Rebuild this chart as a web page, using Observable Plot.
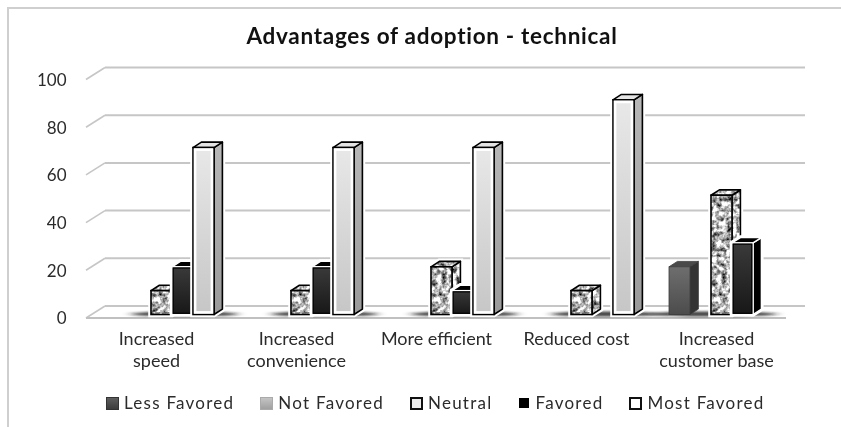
<!DOCTYPE html>
<html><head><meta charset="utf-8">
<script src="https://cdn.jsdelivr.net/npm/d3@7"></script>
<script src="https://cdn.jsdelivr.net/npm/@observablehq/plot@0.6"></script>
<style>
html,body{margin:0;padding:0;background:#fff;overflow:hidden}
#wrap{position:relative;width:841px;height:427px;overflow:hidden;font-family:Lato,sans-serif;filter:blur(.5px)}
#frame{position:absolute;left:7px;top:7px;right:-5px;bottom:-5px;border:2px solid #cfcfcf}
#title{height:55px;box-sizing:border-box;padding-top:23px;padding-left:23px;text-align:center;font-size:22.5px;font-weight:700;letter-spacing:.7px;line-height:26px;color:#111}
#legend{position:absolute;left:106px;top:392px;display:flex;gap:26px;font-size:17px;line-height:22px;color:#2b2b2b;letter-spacing:1.25px}
#legend .item{display:flex;align-items:center;gap:5px}
#legend .sw{display:inline-block;width:13px;height:13px;box-sizing:border-box}
svg{display:block}
</style></head><body>
<div id="wrap"><div id="frame"></div><div id="title">Advantages of adoption - technical</div><div id="chart"></div><div id="legend"></div></div>
<script>
const categories = ["Increased\nspeed","Increased\nconvenience","More efficient","Reduced cost","Increased\ncustomer base"];
const seriesNames = ["Less Favored","Not Favored","Neutral","Favored","Most Favored"];
const lessFavored = [0,0,0,0,20];
const notFavored  = [0,0,0,0,0];
const neutral     = [10,10,20,10,50];
const favored     = [20,20,10,0,30];
const mostFavored = [70,70,70,90,0];
const yTicks = [0,20,40,60,80,100];
const seriesValues = [lessFavored,notFavored,neutral,favored,mostFavored];

const table = categories.flatMap((category,c)=>seriesNames.map((series,s)=>({category,series,value:seriesValues[s][c]}))).filter(d=>d.value>0);

const looks = {
  "Less Favored":{front:"url(#gLess)",side:"#333",top:"#4a4a4a",stroke:"#3c3c3c",sw:.8},
  "Not Favored":{front:"url(#gNot)",side:"#888",top:"#bbb",stroke:"#999",sw:.8},
  "Neutral":{front:"url(#speck)",side:"url(#speck)",top:"url(#speck)",stroke:"#000",sw:1.6,halo:4},
  "Favored":{front:"url(#gFav)",side:"#000",top:"#000",stroke:"#fff",sw:1.4,inner:"#000",innerW:1.2,innerI:1.2,halo:3},
  "Most Favored":{front:"url(#gMost)",side:"url(#gSide)",top:"#e4e4e4",stroke:"#000",sw:1.6,inner:"#fff",innerW:2.6,innerI:2.1,halo:4}
};
const depthX = 8.4, depthY = 5.4, wallX = 19, wallY = 12;
const NS = "http://www.w3.org/2000/svg";
function el(name,attrs){const n=document.createElementNS(NS,name);for(const k in attrs)n.setAttribute(k,attrs[k]);return n;}

function bars3d(index,scales,values,dimensions,context,next){
  const g = next(index,scales,values,dimensions,context);
  const rects = [...g.querySelectorAll("rect")];
  if(!rects.length) return g;
  const host = rects[0].parentNode;
  const first = rects[0];
  const xs = rects.map(r=>+r.getAttribute("x"));
  const ws = rects.map(r=>+r.getAttribute("width"));
  const lo = d3.min(xs), hi = d3.max(xs.map((x,i)=>x+ws[i]));
  const base = d3.max(rects.map(r=>+r.getAttribute("y")+ +r.getAttribute("height")));
  host.insertBefore(el("ellipse",{cx:(lo+hi)/2+2,cy:base-.5,rx:(hi-lo)/2+22,ry:2.6,fill:"#1a1a1a","fill-opacity":.8,filter:"url(#soft)"}),first);
  rects.forEach((r,i)=>{
    const look = looks[table[index[i]].series];
    const x=+r.getAttribute("x"),y=+r.getAttribute("y"),w=+r.getAttribute("width"),h=+r.getAttribute("height");
    const pts = a=>a.map(p=>p.join(",")).join(" ");
    const side = pts([[x+w,y],[x+w+depthX,y-depthY],[x+w+depthX,y+h-depthY],[x+w,y+h]]);
    const top = pts([[x,y],[x+depthX,y-depthY],[x+w+depthX,y-depthY],[x+w,y]]);
    const outline = pts([[x,y],[x+depthX,y-depthY],[x+w+depthX,y-depthY],[x+w+depthX,y+h-depthY],[x+w,y+h],[x,y+h]]);
    if(look.halo) host.insertBefore(el("polygon",{points:outline,fill:"none",stroke:"#fff","stroke-width":look.halo+look.sw}),r);
    host.insertBefore(el("polygon",{points:side,fill:look.side,stroke:look.stroke,"stroke-width":look.sw,"stroke-linejoin":"round"}),r);
    host.insertBefore(el("polygon",{points:top,fill:look.top,stroke:look.stroke,"stroke-width":look.sw,"stroke-linejoin":"round"}),r);
    r.setAttribute("fill",look.front);
    r.setAttribute("stroke",look.stroke);
    r.setAttribute("stroke-width",look.sw);
    if(look.inner){
      const inset = el("rect",{x:x+look.innerI,y:y+look.innerI,width:w-2*look.innerI,height:h-2*look.innerI,fill:"none",stroke:look.inner,"stroke-width":look.innerW});
      r.after(inset);
    }
  });
  return g;
}
function diagonals(index,scales,values,dimensions,context,next){
  const g = next(index,scales,values,dimensions,context);
  g.querySelectorAll("line").forEach(l=>{
    l.setAttribute("x2",+l.getAttribute("x1")+wallX);
    l.setAttribute("y2",+l.getAttribute("y1")-wallY);
  });
  return g;
}

const chart = Plot.plot({
  width:841,height:330,marginLeft:84,marginRight:53,marginTop:24,marginBottom:67.5,
  style:{background:"transparent",fontFamily:'Lato,sans-serif',overflow:"visible"},
  fx:{domain:categories,padding:0,label:null},
  x:{domain:seriesNames,paddingInner:0,paddingOuter:.8,axis:null,label:null},
  y:{domain:[0,100],label:null},
  marks:[
    Plot.ruleY(yTicks,{dx:wallX,dy:-wallY,stroke:"#c6c6c6",strokeWidth:2}),
    Plot.ruleY(yTicks,{fx:()=>categories[0],stroke:"#c6c6c6",strokeWidth:1.6,render:diagonals}),
    Plot.ruleY([0],{stroke:"#c0c0c0",strokeWidth:2.2}),
    Plot.axisY({ticks:yTicks,tickSize:0,tickPadding:20,dy:1,fontSize:17,color:"#2b2b2b",label:null,style:{letterSpacing:"1.1px"}}),
    Plot.axisFx({anchor:"bottom",tickSize:0,tickPadding:12,fontSize:18,lineHeight:1.2,color:"#2b2b2b",label:null,style:{letterSpacing:"2px"}}),
    Plot.barY(table,{fx:"category",x:"series",y:"value",insetLeft:0,insetRight:0,dx:5,dy:-3,fill:"#777",render:bars3d})
  ]
});
const defs = el("defs",{});
defs.innerHTML = `
<linearGradient id="gLess" x1="0" y1="0" x2="0" y2="1"><stop offset="0" stop-color="#6e6e6e"/><stop offset="1" stop-color="#4c4c4c"/></linearGradient>
<linearGradient id="gNot" x1="0" y1="0" x2="0" y2="1"><stop offset="0" stop-color="#c8c8c8"/><stop offset="1" stop-color="#a4a4a4"/></linearGradient>
<linearGradient id="gFav" x1="0" y1="0" x2="0" y2="1"><stop offset="0" stop-color="#3a3a3a"/><stop offset="1" stop-color="#171717"/></linearGradient>
<linearGradient id="gMost" x1="0" y1="0" x2="0" y2="1"><stop offset="0" stop-color="#e8e8e8"/><stop offset="1" stop-color="#c6c6c6"/></linearGradient>
<linearGradient id="gSide" x1="0" y1="0" x2="0" y2="1"><stop offset="0" stop-color="#b8b8b8"/><stop offset="1" stop-color="#9a9a9a"/></linearGradient>
<filter id="soft" x="-20%" y="-200%" width="140%" height="500%"><feGaussianBlur stdDeviation="5 1"/></filter>
<filter id="noise" x="0" y="0" width="100%" height="100%" color-interpolation-filters="sRGB">
  <feTurbulence type="fractalNoise" baseFrequency=".2" numOctaves="3" seed="4"/>
  <feColorMatrix type="matrix" values="2 0 0 0 -.28  2 0 0 0 -.28  2 0 0 0 -.28  0 0 0 0 1"/>
</filter>
<pattern id="speck" patternUnits="userSpaceOnUse" width="90" height="260"><rect width="90" height="260" fill="#ccc" filter="url(#noise)"/></pattern>`;
chart.insertBefore(defs,chart.firstChild);
document.getElementById("chart").append(chart);

const swatchCss = {
  "Less Favored":"background:linear-gradient(#5e5e5e,#3c3c3c);border:1px solid #333",
  "Not Favored":"background:linear-gradient(#c4c4c4,#a0a0a0);border:1px solid #aaa",
  "Neutral":"background:#eee;border:2px solid #111",
  "Favored":"background:#000;width:10px;height:10px;margin:0 1px 0 1px",
  "Most Favored":"background:#fff;border:2px solid #111"
};
const legend = document.getElementById("legend");
seriesNames.forEach(name=>{
  const item=document.createElement("span");item.className="item";
  const sw=document.createElement("span");sw.className="sw";sw.style.cssText=swatchCss[name];
  const t=document.createElement("span");t.textContent=name;
  item.append(sw,t);legend.append(item);
});
</script></body></html>
